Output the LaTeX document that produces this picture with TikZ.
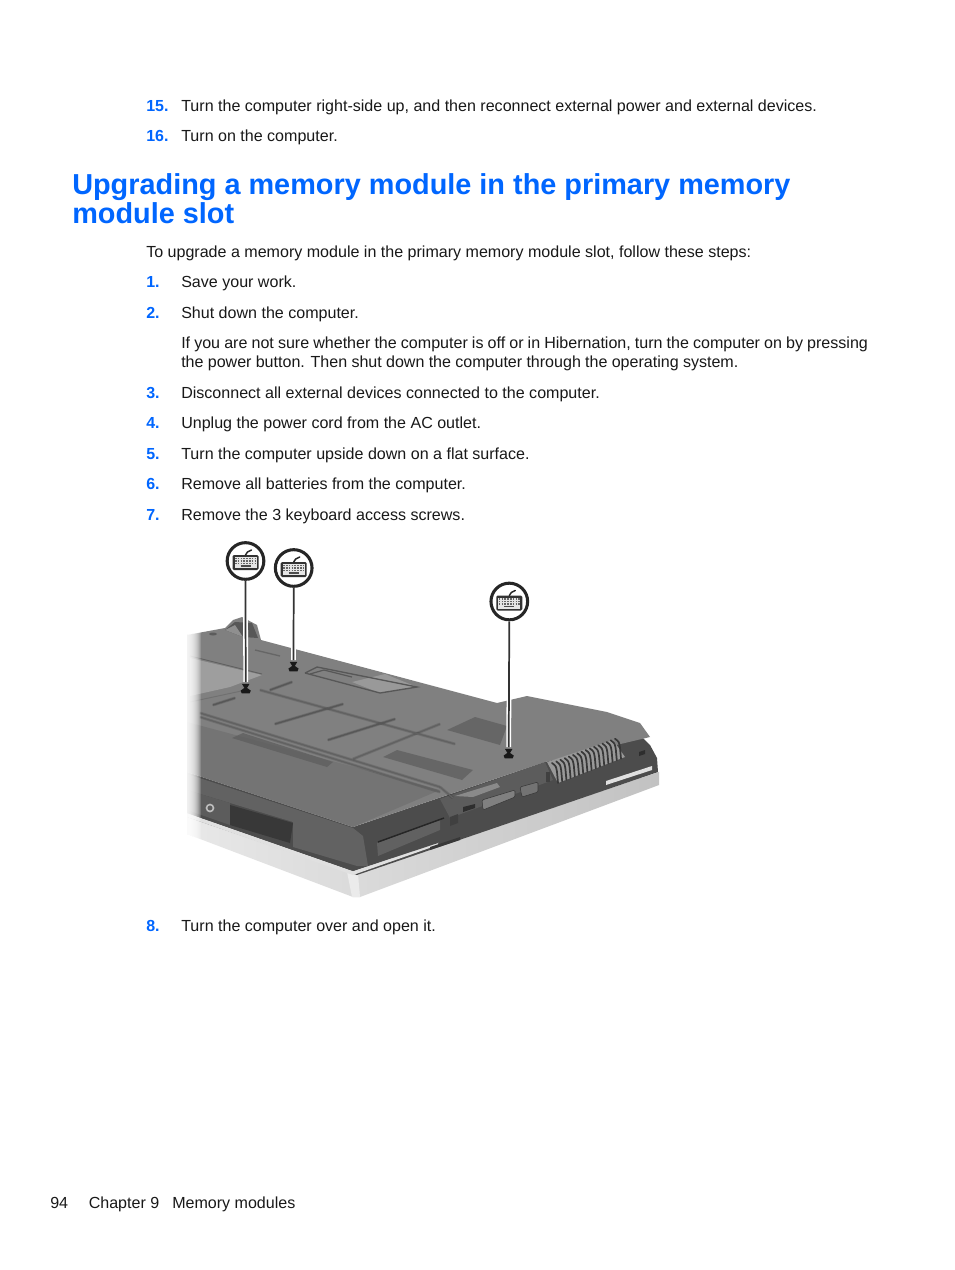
\documentclass[tikz,border=0pt]{standalone}
\usepackage{fontspec}
\setmainfont{Liberation Sans}
\definecolor{hpblue}{RGB}{0,102,255}
\definecolor{topgray}{RGB}{128,128,128}
\definecolor{topdark}{RGB}{116,116,116}
\definecolor{wallgray}{RGB}{98,98,98}
\definecolor{walldark}{RGB}{76,76,76}
\definecolor{txt}{RGB}{25,25,25}
\tikzset{
  bodytext/.style={anchor=base west,inner sep=0pt,text=txt,font=\fontsize{12.04}{14}\selectfont},
  stepnum/.style={anchor=base west,inner sep=0pt,text=hpblue,font=\fontsize{12}{14}\selectfont\bfseries},
  headtext/.style={anchor=base west,inner sep=0pt,text=hpblue,font=\fontsize{21.64}{22}\selectfont\bfseries},
  callout/.style={circle,draw=black!85,line width=2.3pt,fill=white,minimum size=27.5pt,inner sep=0pt},
  screwpt/.style={inner sep=0pt,minimum size=1pt},
  leaderhalo/.style={draw=white,line width=3.6pt},
  leader/.style={draw=black!80,line width=1.3pt},
  seam/.style={draw=black!62,line width=.9pt,line cap=round,preaction={draw=black,opacity=.12,line width=2.2pt}},
  slit/.style={draw=black!66,line width=1pt,line cap=round,preaction={draw=black,opacity=.15,line width=2.2pt}},
  hatch/.style={fill=black!64,opacity=.7}
}
\newcommand{\kbicon}[1]{%
  \begin{scope}[shift={(#1)}]
    \fill[black!80,rounded corners=1pt] (-13,-6) rectangle (13,9);
    \fill[black!10] (-11,-4) rectangle (11,7);
    \foreach \yy in {-2.5,0,2.5} \draw[black!60,line width=1pt,dash pattern=on 1.2pt off .9pt] (-10.5,\yy) -- (10.5,\yy);
    \draw[black!70,line width=.8pt] (-5,5) -- (5,5);
    \draw[black!85,line width=1.1pt,line cap=round] (0,-6) -- (2,-9) -- (6,-11);
  \end{scope}}
\begin{document}
\begin{tikzpicture}[x=0.75pt,y=-0.75pt]
\useasboundingbox[fill=white] (0,0) rectangle (954,1270);
% ---- laptop
% silver base
\shade[left color=black!9,right color=black!24] (187,817) -- (353,874) -- (659,772) -- (659,785) -- (360,897) -- (353,897) -- (187,834) -- cycle;
\fill[white!92!black] (347,872) -- (358,874) -- (360,897) -- (352,897) -- cycle;
% side wall
\fill[walldark] (187,772) -- (353,827) -- (545,762) -- (640,735) -- (650,745) -- (657,758) -- (658,772) -- (357,875) -- (187,817) -- cycle;
\fill[white!88!black] (187,813) -- (353,871) -- (438,842) -- (438,845) -- (353,875) -- (187,817) -- cycle;
\fill[black!70] (187,809) -- (353,866) -- (438,840) -- (438,843) -- (353,871) -- (187,813) -- cycle;
\fill[white!88!black] (606,781) -- (652,766) -- (652,770) -- (606,785) -- cycle;
\fill[black!78] (430,847) -- (460,837) -- (460,840) -- (430,850) -- cycle;
% top surface
\fill[topgray] (187,635) -- (225,628) -- (233,620) -- (242,617) -- (257,625) -- (261,640) -- (497,703) -- (527,696) -- (607,712) -- (640,723) -- (650,737) -- (545,762) -- (353,827) -- (187,772) -- cycle;
\fill[topdark] (187,722) -- (440,790) -- (353,827) -- (187,772) -- cycle;
% lower-left front
\fill[wallgray] (187,774) -- (353,828) -- (363,836) -- (368,866) -- (357,866) -- (293,847) -- (293,822) -- (187,790) -- cycle;
\fill[black!64] (187,790) -- (230,803) -- (230,825) -- (187,810) -- cycle;
\fill[black!78] (230,805) -- (293,823) -- (290,843) -- (230,825) -- cycle;
\draw[black!25,line width=1.2pt] (210,808) circle (3.5);
% right front slot
\fill[black!62] (377,843) -- (440,820) -- (440,830) -- (378,856) -- cycle;
\draw[black!85,line width=1.1pt] (378,842) -- (444,818);
% ports wall
\fill[black!64] (440,799) -- (545,762) -- (553,780) -- (450,818) -- cycle;
% vents
\fill[black!40] (547,762) -- (613,740) -- (625,757) -- (558,783) -- cycle;
\foreach \i in {0,...,15} \draw[black!78,line width=1.3pt,line cap=round] ({558+\i*4.2},{783-\i*1.62}) -- ({557+\i*4.2},{772-\i*1.62}) .. controls ({556+\i*4.2},{766-\i*1.62}) .. ({552+\i*4.2},{763-\i*1.62});
% ports
\fill[black!55,rounded corners=1pt,draw=black!78] (520,787) -- (538,782) -- (538,792) -- (522,797) -- cycle;
\fill[black!50,rounded corners=1pt,draw=black!78] (482,800) -- (515,790) -- (515,797) -- (483,810) -- cycle;
\fill[black!82] (463,807) -- (475,804) -- (475,808) -- (463,812) -- cycle;
\fill[black!75] (450,817) -- (458,814) -- (458,823) -- (450,826) -- cycle;
\fill[black!75] (546,772) rectangle (550,782);
\fill[black!82] (639,752) -- (645,750) -- (645,754) -- (639,756) -- cycle;
% light panel beside ports
\fill[black!46] (455,796) -- (497,783) -- (500,787) -- (473,797) -- cycle;
% seam lines
\draw[seam] (200,713) -- (440,787);
\draw[seam] (200,717) -- (440,792);
\draw[seam] (440,787) -- (453,798);
\draw[seam] (353,759) -- (440,724);
\draw[seam] (260,690) -- (455,744);
\draw[black!56,line width=.7pt] (190,702) -- (246,690);
% light door on the left
\fill[black!38] (190,658) -- (262,675) -- (230,687) -- (190,696) -- cycle;
\draw[black!62,line width=.7pt] (190,656) -- (262,674);
% slits
\draw[slit] (275,724) -- (343,704);
\draw[slit] (328,740) -- (395,719);
\draw[slit] (213,705) -- (235,698);
\draw[slit] (270,690) -- (292,682);
% hatched vents
\fill[hatch] (232,738) -- (243,733) -- (333,762) -- (327,767) -- cycle;
\fill[hatch] (383,757) -- (397,750) -- (473,770) -- (462,780) -- cycle;
\fill[hatch] (447,730) -- (475,717) -- (507,726) -- (500,745) -- cycle;
% connector block near hinge
\fill[black!40] (352,682) -- (385,674) -- (417,687) -- (380,693) -- cycle;
\draw[black!66,line width=1pt] (305,673) -- (317,667) -- (417,687) -- (380,693) -- (305,673);
\draw[black!66,line width=.9pt] (310,674) -- (324,670) -- (352,677);
\draw[black!60,line width=1pt] (255,650) -- (280,656);
\fill[black!64] (213,634) ellipse (4 and 1.5);
% hinge
\fill[black!66] (225,630) -- (235,622) -- (252,623) -- (258,638) -- (243,637) -- cycle;
\fill[black!44] (225,630) -- (235,625) -- (243,637) -- cycle;
% soft edge on left
\foreach \i in {0,...,15} \fill[white,opacity=.17] (170,615) rectangle ({186+\i},850);
\fill[white] (170,610) rectangle (187,900);
% ---- callouts
\node[callout] (k1) at (245.5,561) {};
\node[callout] (k2) at (293.7,568) {};
\node[callout] (k3) at (509.3,601.5) {};
\kbicon{k1}\kbicon{k2}\kbicon{k3}
\node[screwpt] (s1) at (245.7,683) {};
\node[screwpt] (s2) at (293.5,661) {};
\node[screwpt] (s3) at (508.7,748) {};
\draw[leaderhalo] (k1.south) -- (s1);
\draw[leaderhalo] (k2.south) -- (s2);
\draw[leaderhalo] (k3.south) -- (s3);
\draw[leader] (k1.south) -- (s1);
\draw[leader] (k2.south) -- (s2);
\draw[leader] (k3.south) -- (s3);
\foreach \c in {s1,s2,s3} {
  \fill[black!90] ([xshift=-2.8pt]\c.south) -- ([xshift=2.8pt]\c.south) -- ([xshift=1pt,yshift=-3pt]\c.south) -- ([xshift=3.8pt,yshift=-5pt]\c.south) -- ([xshift=3pt,yshift=-7pt]\c.south) -- ([xshift=-3pt,yshift=-7pt]\c.south) -- ([xshift=-3.8pt,yshift=-5pt]\c.south) -- ([xshift=-1pt,yshift=-3pt]\c.south) -- cycle;
}
% ---- text
\node[stepnum] (n15) at (146,111) {15.};
\node[bodytext] (t15) at (181,111) {Turn the computer right-side up, and then reconnect external power and external devices.};
\node[stepnum] (n16) at (146,141) {16.};
\node[bodytext] (t16) at (181,141) {Turn on the computer.};
\node[headtext] (h1) at (72,194.3) {Upgrading a memory module in the primary memory};
\node[headtext] (h2) at (72,223.3) {module slot};
\node[bodytext] (intro) at (146,257) {To upgrade a memory module in the primary memory module slot, follow these steps:};
\node[stepnum] (n1) at (146,287) {1.};
\node[bodytext] (t1) at (181,287) {Save your work.};
\node[stepnum] (n2) at (146,318) {2.};
\node[bodytext] (t2) at (181,318) {Shut down the computer.};
\node[bodytext] (t2a) at (181,348) {\spaceskip=3.08pt If you are not sure whether the computer is off or in Hibernation, turn the computer on by pressing};
\node[bodytext] (t2b) at (181,367) {\spaceskip=3.2pt the power button. Then shut down the computer through the operating system.};
\node[stepnum] (n3) at (146,398) {3.};
\node[bodytext] (t3) at (181,398) {Disconnect all external devices connected to the computer.};
\node[stepnum] (n4) at (146,428) {4.};
\node[bodytext] (t4) at (181,428) {Unplug the power cord from the AC outlet.};
\node[stepnum] (n5) at (146,459) {5.};
\node[bodytext] (t5) at (181,459) {Turn the computer upside down on a flat surface.};
\node[stepnum] (n6) at (146,489) {6.};
\node[bodytext] (t6) at (181,489) {Remove all batteries from the computer.};
\node[stepnum] (n7) at (146,520) {7.};
\node[bodytext] (t7) at (181,520) {Remove the 3 keyboard access screws.};
\node[stepnum] (n8) at (146,931) {8.};
\node[bodytext] (t8) at (181,931) {Turn the computer over and open it.};
\node[bodytext] (f1) at (50,1208) {94};
\node[bodytext] (f2) at (88.5,1208) {Chapter 9};
\node[bodytext] (f3) at (172,1208) {Memory modules};
\end{tikzpicture}
\end{document}
